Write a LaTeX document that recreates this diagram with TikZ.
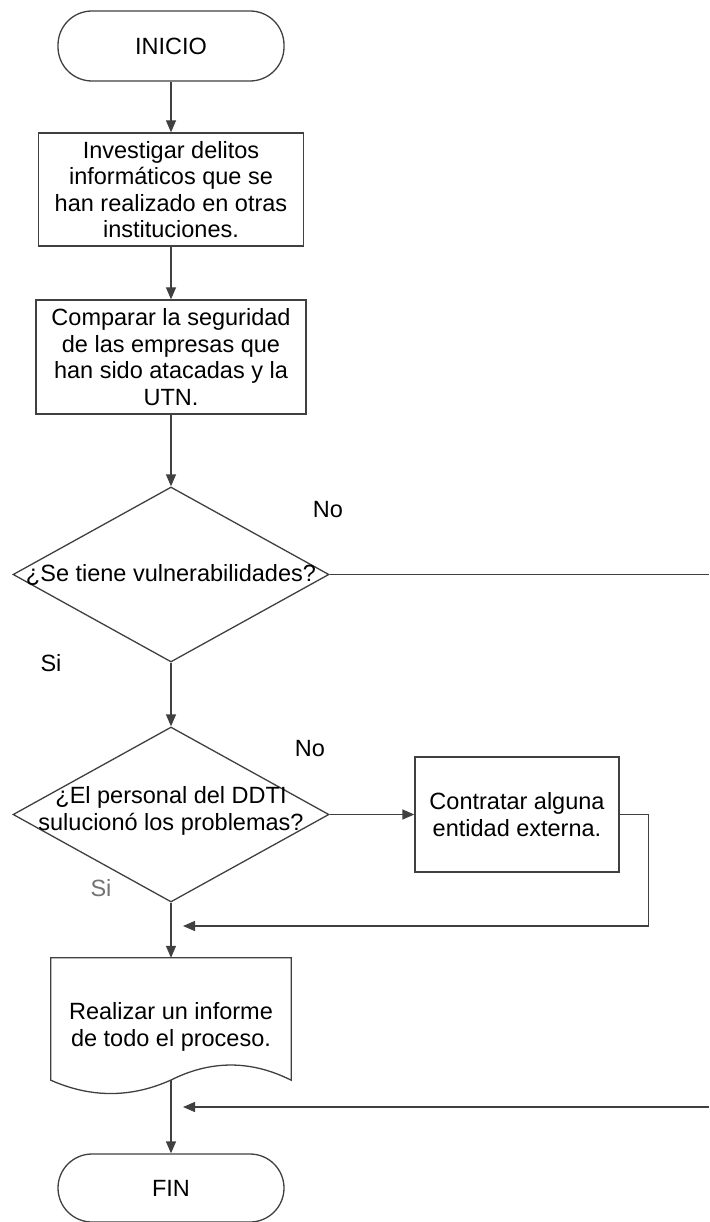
\documentclass[tikz,border=0pt]{standalone}
\usepackage{fontspec}
\setmainfont{Liberation Sans}
\usetikzlibrary{shapes.geometric,arrows.meta}
\begin{document}
\begin{tikzpicture}[x=1pt,y=-1pt,
  every node/.style={font=\fontsize{23.5}{26.5}\selectfont, text=black},
  line/.style={draw=black!75, line width=1.3pt},
  arr/.style={line, -{Triangle[length=12pt,width=10pt]}},
  term/.style={line, rounded corners=34pt, minimum width=226pt, minimum height=70pt, inner sep=0pt},
  proc/.style={line, align=center, inner sep=0pt},
  dec/.style={line, diamond, minimum width=316pt, minimum height=175pt, inner sep=0pt},
  txt/.style={align=center, inner sep=0pt}]
\fill[white] (0,0) rectangle (709,1222);
\useasboundingbox (0,0) rectangle (709,1222);

\node[term] (ini) at (171,46) {INICIO};
\node[proc, minimum width=265pt, minimum height=113pt] (b1) at (171,189.5) {Investigar delitos\\informáticos que se\\han realizado en otras\\instituciones.};
\node[proc, minimum width=270pt, minimum height=114pt] (b2) at (171,357) {Comparar la seguridad\\de las empresas que\\han sido atacadas y la\\UTN.};
\node[dec] (d1) at (171,574.5) {};
\node[txt] (d1t) at (171,574.5) {¿Se tiene vulnerabilidades?};
\node[dec] (d2) at (171,814.5) {};
\node[txt] (d2t) at (171,811) {¿El personal del DDTI\\sulucionó los problemas?};
\node[proc, minimum width=204pt, minimum height=115pt] (b3) at (517,814.5) {Contratar alguna\\entidad externa.};
\node[minimum width=240pt, minimum height=122pt, inner sep=0pt] (inf) at (171,1019) {};
\draw[line] (inf.south west) -- (inf.north west) -- (inf.north east) -- (inf.south east)
  .. controls (251,1060) and (211,1060) .. (171,1080)
  .. controls (131,1098) and (91,1098) .. (inf.south west) -- cycle;
\node[txt] (inft) at (171,1027) {Realizar un informe\\de todo el proceso.};
\node[term, minimum height=68pt] (fin) at (171,1188) {FIN};

\draw[arr] (ini) -- (b1);
\draw[arr] (b1) -- (b2);
\draw[arr] (b2) -- (d1);
\draw[arr] (d1) -- (d2);
\draw[arr] (d2) -- (inf);
\draw[arr] (inf.south) -- (fin);
\draw[arr] (d2.east) -- (b3.west);
\coordinate (j1) at (183,926);
\draw[arr] (b3.east) -- ++(29,0) |- (j1);
\coordinate (e1) at (709,574.5);
\draw[line] (d1.east) -- (e1);
\coordinate (e2) at (709,1107);
\coordinate (j2) at (183,1107);
\draw[arr] (e2) -- (j2);

\node (no1) at (328,510) {No};
\node (si1) at (51,663) {Si};
\node (no2) at (310,749) {No};
\node[text=black!55] (si2) at (101,888) {Si};
\end{tikzpicture}
\end{document}
